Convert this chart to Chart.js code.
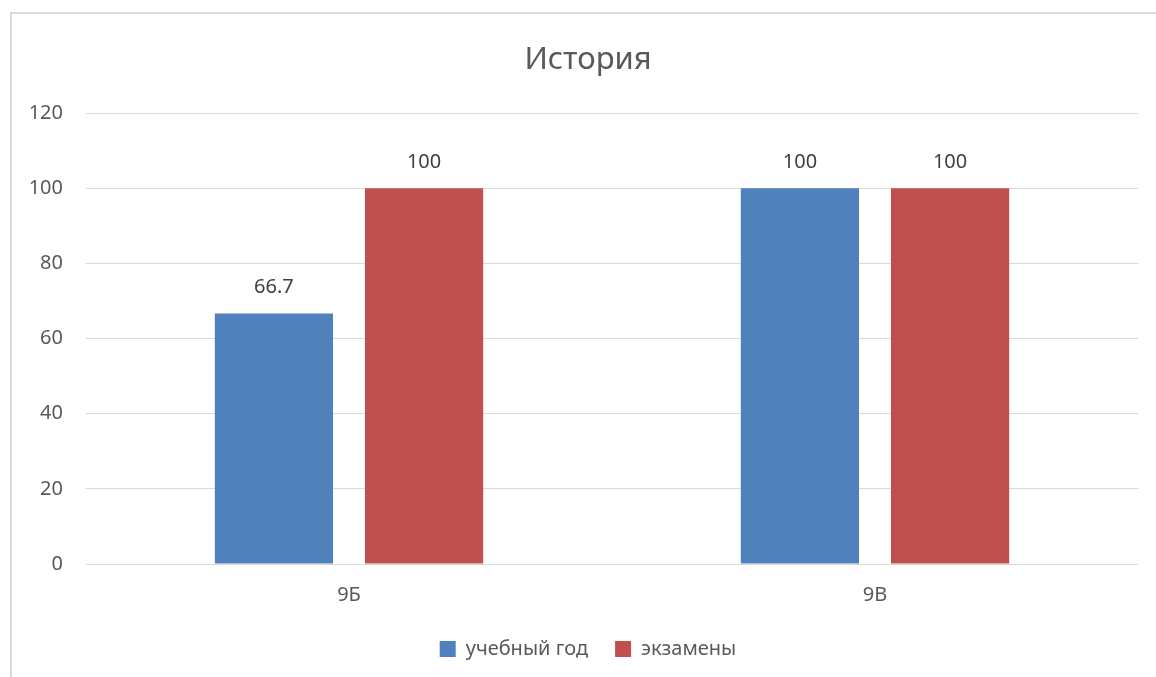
<!DOCTYPE html>
<html>
<head>
<meta charset="utf-8">
<script src="https://cdn.jsdelivr.net/npm/chart.js@4/dist/chart.umd.min.js"></script>
<style>
    html, body { margin: 0; padding: 0; background: #fff; overflow: hidden; }
    #frame {
        position: absolute; left: 10px; top: 12px;
        width: 1156px; height: 680px;
        border-left: 2px solid #d9d9d9; border-top: 2px solid #d9d9d9;
        box-sizing: border-box;
    }
    #wrap { position: absolute; left: 10px; top: 12px; width: 1140px; height: 677px; }
</style>
</head>
<body>
<div id="frame"></div>
<div id="wrap"><canvas id="chart"></canvas></div>
<script>
    const categories = ['9Б', '9В'];
    const seriesNames = ['учебный год', 'экзамены'];
    const yearValues = [66.7, 100];
    const examValues = [100, 100];
    const yTicks = [0, 20, 40, 60, 80, 100, 120];

    const textColor = '#595959';
    const fontFamily = '"Noto Sans", "Liberation Sans", sans-serif';

    // value labels above each bar
    const valueLabels = {
        id: 'valueLabels',
        afterDatasetsDraw(chart) {
            const ctx = chart.ctx;
            ctx.save();
            ctx.font = '20px ' + fontFamily;
            ctx.fillStyle = '#404040';
            ctx.textAlign = 'center';
            ctx.textBaseline = 'middle';
            chart.data.datasets.forEach((ds, i) => {
                chart.getDatasetMeta(i).data.forEach((bar, j) => {
                    ctx.fillText(String(ds.data[j]), bar.x, bar.y - 26);
                });
            });
            ctx.restore();
        }
    };

    new Chart(document.getElementById('chart').getContext('2d'), {
        type: 'bar',
        data: {
            labels: categories,
            datasets: [
                {
                    label: seriesNames[0],
                    data: yearValues,
                    backgroundColor: '#4f81bd',
                    categoryPercentage: 0.571,
                    barPercentage: 0.787,
                },
                {
                    label: seriesNames[1],
                    data: examValues,
                    backgroundColor: '#c0504d',
                    categoryPercentage: 0.571,
                    barPercentage: 0.787,
                }
            ]
        },
        options: {
            responsive: true,
            maintainAspectRatio: false,
            animation: false,
            layout: { padding: { left: 16, right: 0, top: 0, bottom: 20 } },
            plugins: {
                title: {
                    display: true,
                    text: 'История',
                    color: textColor,
                    font: { family: fontFamily, size: 31, weight: 'normal' },
                    padding: { top: 30, bottom: 34 }
                },
                legend: {
                    position: 'bottom',
                    labels: {
                        color: textColor,
                        font: { family: fontFamily, size: 20 },
                        boxWidth: 16,
                        boxHeight: 16,
                        padding: 27
                    }
                },
                tooltip: { enabled: false }
            },
            scales: {
                x: {
                    afterFit(scale) { scale.height = 48; },
                    grid: { display: false },
                    border: { display: false },
                    ticks: {
                        color: textColor,
                        font: { family: fontFamily, size: 20 },
                        padding: 11
                    }
                },
                y: {
                    min: 0,
                    max: 120,
                    afterFit(scale) { scale.width = 60; },
                    afterBuildTicks(scale) { scale.ticks = yTicks.map(v => ({ value: v })); },
                    grid: { color: '#d9d9d9', lineWidth: 1, drawTicks: false },
                    border: { display: false },
                    ticks: {
                        color: textColor,
                        font: { family: fontFamily, size: 20 },
                        padding: 23
                    }
                },
                // empty right margin so the title and legend sit where the original has them
                yRight: {
                    position: 'right',
                    min: 0,
                    max: 120,
                    afterFit(scale) { scale.width = 12; },
                    grid: { display: false },
                    border: { display: false },
                    ticks: { display: false }
                }
            }
        },
        plugins: [valueLabels]
    });
</script>
</body>
</html>
